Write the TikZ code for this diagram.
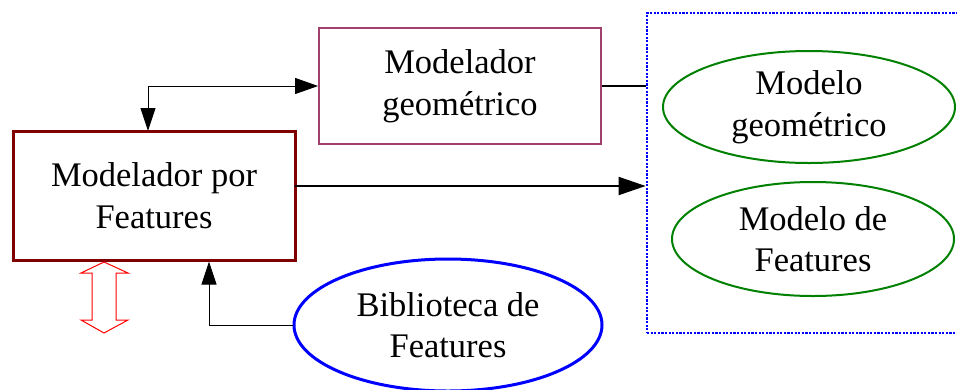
\documentclass[tikz,border=0pt]{standalone}
\usepackage{fontspec}
\setmainfont{Liberation Serif}
\usetikzlibrary{arrows.meta,shapes.geometric}
\definecolor{boxred}{RGB}{128,0,0}
\definecolor{plum}{RGB}{160,64,110}
\definecolor{modgreen}{RGB}{0,128,0}
\definecolor{libblue}{RGB}{0,0,255}
\tikzset{
  txt/.style={font=\fontsize{34.5}{41.5}\selectfont, align=center, inner sep=0pt},
  rectbox/.style={txt, draw, rectangle},
  ovalbox/.style={txt, draw, ellipse},
  link/.style={draw=black, line width=1pt},
  tip/.style={-{Triangle[length=23pt,width=15pt]}},
  bigtip/.style={-{Triangle[length=27pt,width=18pt]}},
  bothtips/.style={{Triangle[length=23pt,width=15pt]}-{Triangle[length=23pt,width=16pt]}},
}
\begin{document}
\begin{tikzpicture}[x=1pt,y=-1pt]
\useasboundingbox (0,0) rectangle (957,389);

% boxes
\node[rectbox, draw=boxred, line width=3pt, minimum width=282pt, minimum height=129pt]
  (mpf) at (154,195.5) {Modelador por\\Features};
\node[rectbox, draw=plum, line width=1.8pt, minimum width=282pt, minimum height=116pt]
  (mg) at (460,86) {Modelador\\geométrico};

% model container (open at the right)
\node[draw=libblue, line width=2.8pt, dash pattern=on 2.2pt off 1.4pt, minimum width=316pt, minimum height=320pt, inner sep=0pt]
  (cont) at (805,173) {};

% ellipses
\node[ovalbox, draw=modgreen, line width=2pt, minimum width=292pt, minimum height=112pt]
  (geo) at (809,107) {Modelo\\geométrico};
\node[ovalbox, draw=modgreen, line width=2pt, minimum width=282pt, minimum height=114pt]
  (feat) at (813,239) {Modelo de\\Features};
\node[ovalbox, draw=libblue, line width=3pt, minimum width=308pt, minimum height=132pt]
  (lib) at (448,325) {Biblioteca de\\Features};

% connectors
\coordinate (up) at (148,131);
\coordinate (corner) at (148,86);
\draw[link, bothtips] (up) -- (corner) -- (mg.west);

\draw[link, line width=2pt] (mg.east) -- (mg.east -| cont.west);

\coordinate (mpfout) at (295,186);
\draw[link, line width=2pt, bigtip] (mpfout) -- (mpfout -| cont.west);

\coordinate (libx) at (209,0);
\draw[link, tip] (lib.west) -- (lib.west -| libx) -- (libx |- mpf.south);

% hollow double arrow below the feature modeler
\draw[red, line width=1pt]
  (104,262) -- (128,273) -- (116,273) -- (116,320) -- (128,320) -- (104,333)
  -- (81,320) -- (92,320) -- (92,273) -- (81,273) -- cycle;
\end{tikzpicture}
\end{document}
